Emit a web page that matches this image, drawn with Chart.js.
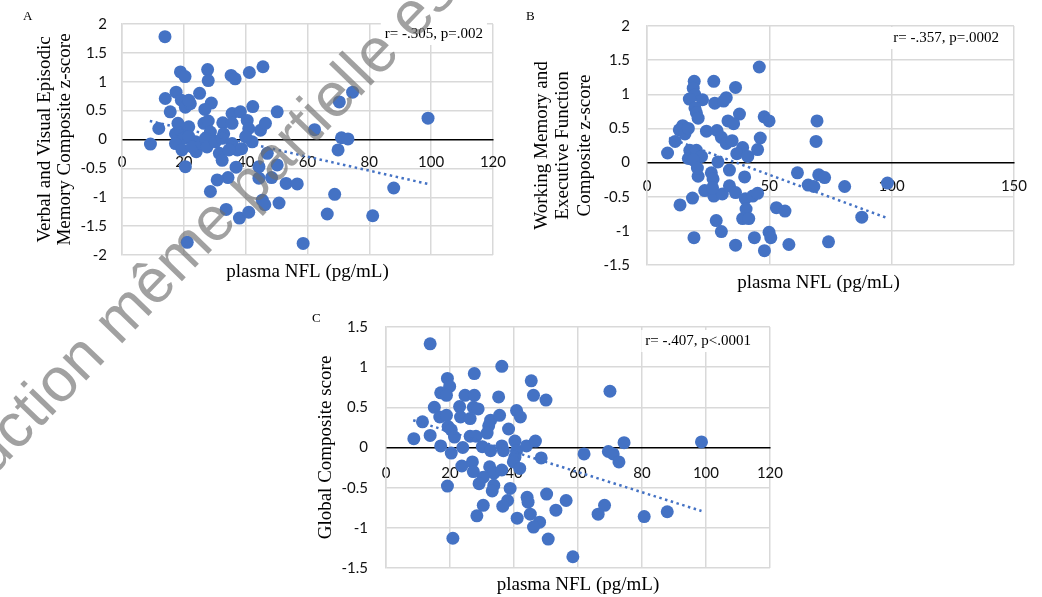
<!DOCTYPE html>
<html>
<head>
<meta charset="utf-8">
<script src="https://cdn.jsdelivr.net/npm/chart.js@4.4.1/dist/chart.umd.min.js"></script>
<style>
  body { margin: 0; background: #fff; }
  #page { position: relative; width: 1042px; height: 597px; overflow: hidden; }
  #page canvas { position: absolute; }
  .letter { position: absolute; font: 13px "Liberation Serif", serif; line-height: 13px; color: #000; }
  #mark { position: absolute; left: 0; top: 0; pointer-events: none; }
</style>
</head>
<body>
<div id="page">
  <canvas id="chartA" width="520" height="300" style="left:0;top:0"></canvas>
  <canvas id="chartB" width="522" height="300" style="left:520px;top:0"></canvas>
  <canvas id="chartC" width="500" height="297" style="left:300px;top:300px"></canvas>
  <div class="letter" style="left:23px;top:9px">A</div>
  <div class="letter" style="left:526px;top:9px">B</div>
  <div class="letter" style="left:312px;top:311px">C</div>
  <svg id="mark" width="1042" height="597">
    <text x="-149" y="624" transform="rotate(-46 -149 624)" font-family="Liberation Sans, Arial, sans-serif"
          font-size="62" fill="rgba(110,110,110,0.65)">Reproduction même partielle est interdite</text>
  </svg>
</div>
<script>
// panel A: verbal and visual episodic memory
const nflA = [13.9, 18.9, 20.4, 27.7, 27.9, 35.3, 36.6, 41.2, 45.6,
  14.0, 17.5, 15.6, 19.2, 20.5, 22.1, 25.1, 28.9, 26.8, 21.6,
  11.9, 9.2, 17.3, 18.9, 21.6, 20.0, 17.3, 19.4, 20.5, 24.0, 23.8, 21.6, 22.7, 25.9,
  26.5, 27.9, 28.6, 27.0, 27.5, 30.2, 32.6, 32.9, 31.5, 32.4, 34.3, 30.8, 28.6,
  35.6, 38.3, 40.5, 42.3, 41.0, 37.3, 35.6, 38.7, 36.9, 42.1, 44.8, 46.4, 50.2, 35.6, 40.0, 34.6, 32.4, 18.1,
  44.3, 44.3, 48.4, 47.0, 50.2, 53.1, 56.7, 45.4, 46.2, 50.8, 33.7, 38.0, 41.0, 21.1, 58.6,
  74.6, 70.3, 99.0, 62.3, 71.0, 73.1, 69.9, 68.8, 66.4, 81.1, 87.9];
const scoreA = [1.78, 1.17, 1.09, 1.21, 1.02, 1.11, 1.05, 1.16, 1.26,
  0.71, 0.82, 0.48, 0.68, 0.56, 0.62, 0.80, 0.63, 0.52, 0.68,
  0.19, -0.08, 0.10, 0.17, 0.22, 0.02, -0.07, -0.18, -0.47, -0.21, -0.04, 0.05, -0.13, -0.07,
  0.28, 0.32, 0.13, 0.02, -0.13, -0.04, 0.29, 0.10, -0.24, -0.36, -0.66, -0.70, -0.90,
  0.45, 0.48, 0.33, 0.57, 0.19, -0.18, -0.07, -0.16, -0.48, -0.04, 0.16, 0.28, 0.48, 0.28, 0.05, -0.18, 0.02, 0.28,
  -0.47, -0.67, -0.66, -0.24, -0.44, -0.76, -0.77, -1.05, -1.13, -1.10, -1.21, -1.36, -1.26, -1.78, -1.80,
  0.82, 0.65, 0.37, 0.17, 0.03, 0.01, -0.18, -0.95, -1.29, -1.32, -0.84];
const trendXA = [9, 99];
const trendYA = [0.32, -0.77];
const xTicksA = [0, 20, 40, 60, 80, 100, 120];
const yTicksA = [-2, -1.5, -1, -0.5, 0, 0.5, 1, 1.5, 2];

// panel B: working memory and executive function
const nflB = [45.9, 19.3, 27.3, 36.2, 18.9, 19.6, 17.3, 22.7, 27.7, 31.3, 32.4, 19.6, 20.2, 20.9, 37.8, 33.1, 35.4, 47.9, 49.9, 69.5, 69.1,
  14.6, 13.2, 15.5, 16.9, 24.3, 28.6, 30.4, 11.5, 8.4, 17.5, 20.2, 16.9, 22.3, 18.9, 32.4, 34.8, 39.1, 36.7, 41.2, 46.3, 45.2, 29.0,
  33.7, 26.3, 20.9, 27.0, 39.9, 23.6, 27.3, 30.8, 33.7, 36.2, 40.2, 43.2, 45.2, 40.5, 39.1, 41.6, 13.5, 18.6, 28.3, 30.4, 19.2,
  36.2, 43.9, 49.9, 50.6, 48.0, 58.0, 52.9, 56.4, 61.5, 65.9, 68.2, 70.2, 72.6, 74.2, 80.8, 87.8, 98.3, 20.6, 26.8];
const scoreB = [1.40, 1.19, 1.19, 1.10, 1.09, 0.99, 0.93, 0.92, 0.87, 0.90, 0.95, 0.80, 0.73, 0.65, 0.71, 0.61, 0.57, 0.67, 0.61, 0.61, 0.31,
  0.54, 0.48, 0.42, 0.50, 0.46, 0.47, 0.37, 0.31, 0.14, 0.18, 0.18, 0.06, 0.09, 0.04, 0.28, 0.32, 0.22, 0.13, 0.09, 0.36, 0.19, 0.01,
  -0.11, -0.15, -0.20, -0.24, -0.21, -0.41, -0.49, -0.46, -0.34, -0.44, -0.53, -0.49, -0.45, -0.68, -0.82, -0.82, -0.62, -0.52, -0.85, -1.01, -1.10,
  -1.21, -1.10, -1.02, -1.10, -1.29, -1.20, -0.66, -0.71, -0.15, -0.33, -0.35, -0.18, -0.22, -1.16, -0.35, -0.80, -0.30, -0.08, -0.37];
const trendXB = [9, 98];
const trendYB = [0.36, -0.81];
const xTicksB = [0, 50, 100, 150];
const yTicksB = [-1.5, -1, -0.5, 0, 0.5, 1, 1.5, 2];

// panel C: global composite
const nflC = [13.8, 36.2, 27.6, 19.2, 19.9, 45.4, 46.1, 50.0, 17.1, 18.9, 24.7, 27.6, 35.2, 15.1, 16.8, 18.9, 23.0, 27.3, 28.8, 23.3,
  26.3, 32.7, 35.5, 40.8, 42.0, 11.4, 19.4, 20.4, 21.4, 32.1, 31.6, 38.3, 13.8, 8.7, 26.3, 28.1, 17.1, 24.0, 20.4, 30.1,
  32.7, 36.2, 36.7, 40.3, 40.8, 43.9, 46.7, 48.5, 40.3, 39.8, 23.7, 27.0, 27.3, 32.4, 33.7, 36.2, 30.4, 29.1, 33.7, 33.2,
  38.8, 19.2, 41.8, 30.4, 28.4, 38.0, 36.5, 44.1, 44.4, 50.2, 45.1, 41.0, 48.0, 46.1, 53.1, 56.3, 50.7, 20.9, 58.4, 61.9,
  70.0, 74.4, 98.6, 69.5, 71.0, 72.8, 68.3, 66.3, 80.7, 87.9];
const scoreC = [1.29, 1.01, 0.92, 0.86, 0.76, 0.83, 0.65, 0.59, 0.68, 0.65, 0.65, 0.65, 0.63, 0.50, 0.38, 0.40, 0.51, 0.50, 0.48, 0.38,
  0.36, 0.34, 0.40, 0.46, 0.38, 0.32, 0.26, 0.22, 0.13, 0.27, 0.18, 0.23, 0.15, 0.11, 0.14, 0.14, 0.02, 0.00, -0.07, 0.01,
  -0.04, 0.02, -0.04, 0.08, -0.04, 0.02, 0.08, -0.13, -0.12, -0.18, -0.23, -0.18, -0.30, -0.24, -0.32, -0.28, -0.37, -0.45, -0.47, -0.54,
  -0.51, -0.48, -0.26, -0.72, -0.85, -0.66, -0.73, -0.62, -0.68, -0.58, -0.83, -0.88, -0.93, -0.99, -0.78, -0.66, -1.14, -1.13, -1.36, -0.08,
  0.70, 0.06, 0.07, -0.05, -0.08, -0.18, -0.72, -0.83, -0.86, -0.80];
const trendXC = [8.5, 98.6];
const trendYC = [0.34, -0.79];
const xTicksC = [0, 20, 40, 60, 80, 100, 120];
const yTicksC = [-1.5, -1, -0.5, 0, 0.5, 1, 1.5];

const xLabel = 'plasma NFL (pg/mL)';
const blue = '#4472C4';
const gridGrey = '#d9d9d9';
const serif = '"Liberation Serif", "Times New Roman", serif';

// axis title under the plot and the r/p note in the corner
const panelText = {
  id: 'panelText',
  afterDraw(chart, args, opts) {
    const { ctx, chartArea: a } = chart;
    ctx.save();
    ctx.font = '19px ' + serif;
    ctx.fillStyle = '#000';
    ctx.textAlign = 'center';
    ctx.textBaseline = 'middle';
    ctx.fillText(xLabel, (a.left + a.right) / 2 + opts.titleShift, a.bottom + opts.titleGap);

    ctx.font = '15px ' + serif;
    const w = ctx.measureText(opts.note).width;
    const x = a.right - opts.noteRight - w;
    const y = a.top + opts.noteTop;
    ctx.fillStyle = '#fff';
    ctx.fillRect(x - 4, y - 11, w + 8, 22);
    ctx.fillStyle = '#000';
    ctx.textAlign = 'left';
    ctx.fillText(opts.note, x, y);
    ctx.restore();
  }
};

function makeChart(id, s) {
  const points = s.nfl.map((v, i) => ({ x: v, y: s.score[i] }));
  const trend = s.trendX.map((v, i) => ({ x: v, y: s.trendY[i] }));
  const tickFont = { family: 'Lato, "Liberation Sans", sans-serif', size: 15 };
  return new Chart(document.getElementById(id), {
    type: 'scatter',
    data: {
      datasets: [
        { data: trend, showLine: true, borderColor: blue, borderWidth: 2.5, borderDash: [2.5, 3.5],
          pointRadius: 0, fill: false },
        { data: points, backgroundColor: blue, borderWidth: 0, pointRadius: 6.5, pointHoverRadius: 6.5 }
      ]
    },
    options: {
      responsive: false,
      animation: false,
      events: [],
      layout: { padding: s.padding },
      plugins: {
        legend: { display: false },
        tooltip: { enabled: false },
        panelText: { note: s.note, noteRight: s.noteRight, noteTop: s.noteTop, titleGap: s.titleGap, titleShift: s.titleShift }
      },
      scales: {
        x: {
          type: 'linear',
          position: { y: 0 },
          min: s.xTicks[0],
          max: s.xTicks[s.xTicks.length - 1],
          afterBuildTicks: sc => { sc.ticks = s.xTicks.map(v => ({ value: v })); },
          grid: { color: gridGrey, lineWidth: 1.5, drawTicks: false },
          border: { color: '#000', width: 1.5 },
          ticks: { padding: s.xPad, font: tickFont, color: '#111', maxRotation: 0, callback: v => String(v) }
        },
        y: {
          type: 'linear',
          position: 'left',
          min: s.yTicks[0],
          max: s.yTicks[s.yTicks.length - 1],
          afterBuildTicks: sc => { sc.ticks = s.yTicks.map(v => ({ value: v })); },
          afterFit: sc => { sc.width = s.yWidth; },
          grid: {
            color: c => (c.tick && c.tick.value === 0 ? 'rgba(0,0,0,0)' : gridGrey),
            lineWidth: 1.5,
            drawTicks: false
          },
          border: { color: gridGrey, width: 1.5 },
          ticks: { padding: s.yPad, font: tickFont, color: '#111', callback: v => String(v) },
          title: {
            display: true,
            text: s.yTitle,
            color: '#000',
            font: { family: serif, size: 19, lineHeight: s.titleLine },
            padding: { top: s.titlePad, bottom: 0 }
          }
        }
      }
    },
    plugins: [panelText]
  });
}

makeChart('chartA', {
  nfl: nflA, score: scoreA, trendX: trendXA, trendY: trendYA, xTicks: xTicksA, yTicks: yTicksA,
  yTitle: ['Verbal and Visual Episodic', 'Memory Composite z-score'],
  note: 'r= -.305, p=.002',
  padding: { left: 0, top: 20, right: 27, bottom: 45 },
  yWidth: 122, yPad: 15, xPad: 14, titleLine: 1.08, titlePad: 34.5,
  noteRight: 10, noteTop: 10, titleGap: 17, titleShift: 0
});

makeChart('chartB', {
  nfl: nflB, score: scoreB, trendX: trendXB, trendY: trendYB, xTicks: xTicksB, yTicks: yTicksB,
  yTitle: ['Working Memory and', 'Executive Function', 'Composite z-score'],
  note: 'r= -.357, p=.0002',
  padding: { left: 0, top: 20, right: 25, bottom: 35 },
  yWidth: 127, yPad: 17, xPad: 15, titleLine: 1.14, titlePad: 11,
  noteRight: 15, noteTop: 12, titleGap: 18, titleShift: -12
});

makeChart('chartC', {
  nfl: nflC, score: scoreC, trendX: trendXC, trendY: trendYC, xTicks: xTicksC, yTicks: yTicksC,
  yTitle: 'Global Composite score',
  note: 'r= -.407, p<.0001',
  padding: { left: 0, top: 27, right: 22, bottom: 29 },
  yWidth: 86, yPad: 18, xPad: 17, titleLine: 1.1, titlePad: 15.5,
  noteRight: 19, noteTop: 14, titleGap: 17, titleShift: 0
});
</script>
</body>
</html>
